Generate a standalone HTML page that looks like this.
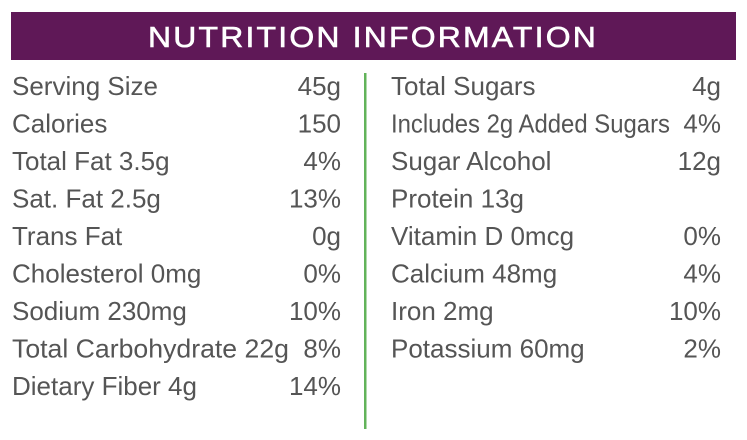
<!DOCTYPE html>
<html><head><meta charset="utf-8"><style>
html,body{margin:0;padding:0;background:#fff;width:747px;height:440px;overflow:hidden}
svg text{font-family:"Liberation Sans",sans-serif;fill:#555;font-size:26px}
</style></head><body>
<svg width="747" height="440" xmlns="http://www.w3.org/2000/svg">
<rect x="11" y="12" width="725" height="48" fill="#5f1857"/>
<text x="373" y="47" text-anchor="middle" style="fill:#fff;font-size:29px;letter-spacing:2px;stroke:#fff;stroke-width:0.6" textLength="450" lengthAdjust="spacingAndGlyphs">NUTRITION INFORMATION</text>
<rect x="364" y="73" width="2.5" height="356" fill="#62b35a"/>
<g>
<text x="12" y="95">Serving Size</text><text x="341" y="95" text-anchor="end">45g</text>
<text x="12" y="132.5">Calories</text><text x="341" y="132.5" text-anchor="end">150</text>
<text x="12" y="170">Total Fat 3.5g</text><text x="341" y="170" text-anchor="end">4%</text>
<text x="12" y="207.5">Sat. Fat 2.5g</text><text x="341" y="207.5" text-anchor="end">13%</text>
<text x="12" y="245">Trans Fat</text><text x="341" y="245" text-anchor="end">0g</text>
<text x="12" y="282.5">Cholesterol 0mg</text><text x="341" y="282.5" text-anchor="end">0%</text>
<text x="12" y="320">Sodium 230mg</text><text x="341" y="320" text-anchor="end">10%</text>
<text x="12" y="357.5" textLength="277" lengthAdjust="spacingAndGlyphs">Total Carbohydrate 22g</text><text x="341" y="357.5" text-anchor="end">8%</text>
<text x="12" y="395">Dietary Fiber 4g</text><text x="341" y="395" text-anchor="end">14%</text>
</g>
<g>
<text x="391" y="95">Total Sugars</text><text x="721" y="95" text-anchor="end">4g</text>
<text x="391" y="132.5" textLength="279" lengthAdjust="spacingAndGlyphs">Includes 2g Added Sugars</text><text x="721" y="132.5" text-anchor="end">4%</text>
<text x="391" y="170">Sugar Alcohol</text><text x="721" y="170" text-anchor="end">12g</text>
<text x="391" y="207.5">Protein 13g</text>
<text x="391" y="245">Vitamin D 0mcg</text><text x="721" y="245" text-anchor="end">0%</text>
<text x="391" y="282.5">Calcium 48mg</text><text x="721" y="282.5" text-anchor="end">4%</text>
<text x="391" y="320">Iron 2mg</text><text x="721" y="320" text-anchor="end">10%</text>
<text x="391" y="357.5">Potassium 60mg</text><text x="721" y="357.5" text-anchor="end">2%</text>
</g>
</svg>
</body></html>
